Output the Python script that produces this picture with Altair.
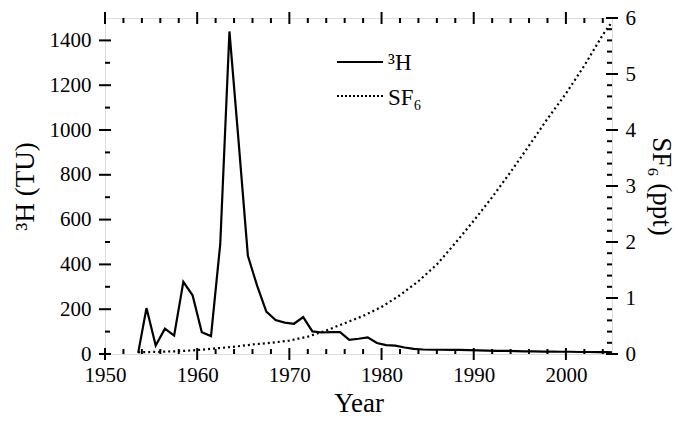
import altair as alt
import pandas as pd

# ---- data ----
H3_YEARS = [1953.6, 1954.5, 1955.5, 1956.5, 1957.5, 1958.5, 1959.5, 1960.5, 1961.5, 1962.5,
            1963.5, 1964.5, 1965.5, 1966.5, 1967.5, 1968.5, 1969.5, 1970.5, 1971.5, 1972.5,
            1973.5, 1974.5, 1975.5, 1976.5, 1977.5, 1978.5, 1979.5, 1980.5, 1981.5, 1982.5,
            1983.5, 1984.5, 1985.5, 1986.5, 1987.5, 1988.5, 1989.5, 1990.5, 1991.5, 1992.5,
            1993.5, 1994.5, 1995.5, 1996.5, 1997.5, 1998.5, 1999.5, 2000.5, 2001.5, 2002.5,
            2003.5, 2004.5, 2005.0]
H3_TU = [5, 205, 38, 113, 82, 322, 262, 97, 80, 490,
         1440, 945, 438, 305, 189, 152, 140, 135, 165, 101,
         96, 98, 98, 63, 68, 74, 49, 40, 37, 29,
         23, 20, 19, 19, 18, 18, 17, 16, 15, 14,
         14, 13, 12, 12, 11, 11, 10, 10, 9, 9,
         8, 8, 7]

SF6_YEARS = [1953.6, 1956, 1958, 1960, 1962, 1964, 1966, 1968, 1970, 1972, 1974, 1976, 1978,
             1980, 1982, 1984, 1986, 1988, 1990, 1992, 1994, 1996, 1998, 2000, 2002, 2004, 2005]
SF6_PPT = [0.03, 0.04, 0.05, 0.07, 0.10, 0.13, 0.17, 0.20, 0.24, 0.31, 0.42, 0.55, 0.68,
           0.84, 1.05, 1.30, 1.60, 1.98, 2.38, 2.80, 3.25, 3.72, 4.20, 4.65, 5.15, 5.70, 5.93]

X_MAJOR = [1950, 1960, 1970, 1980, 1990, 2000]
X_MINOR = [y for y in range(1952, 2005, 2) if y % 10 != 0]
LEFT_MAJOR = [0, 200, 400, 600, 800, 1000, 1200, 1400]
LEFT_MINOR = [100, 300, 500, 700, 900, 1100, 1300]
RIGHT_MAJOR = [0, 1, 2, 3, 4, 5, 6]
RIGHT_MINOR = [round(i * 0.2, 1) for i in range(1, 30) if i % 5 != 0]

LEGEND_LABELS = ["³H", "SF₆"]
X_TITLE = "Year"
LEFT_TITLE = "³H (TU)"
RIGHT_TITLE = "SF₆ (ppt)"

W, H = 507, 336
FONT = "Liberation Serif"

h3 = pd.DataFrame({"year": H3_YEARS, "tu": H3_TU})
sf6 = pd.DataFrame({"year": SF6_YEARS, "ppt": SF6_PPT})

xscale = alt.Scale(domain=[1950, 2005], nice=False, zero=False)
lscale = alt.Scale(domain=[0, 1500], nice=False)
rscale = alt.Scale(domain=[0, 6], nice=False)

axis_common = dict(ticks=False, domain=False, grid=False, labelFont=FONT, labelFontSize=21,
                   labelColor="black", titleFont=FONT, titleFontSize=27,
                   titleFontWeight="normal", titleColor="black", labelFlush=False)

xaxis = alt.Axis(values=X_MAJOR, format="d", title=X_TITLE, labelPadding=10,
                 titlePadding=5, **axis_common)

h3_line = alt.Chart(h3).mark_line(color="black", strokeWidth=2.2).encode(
    x=alt.X("year:Q", scale=xscale, axis=xaxis),
    y=alt.Y("tu:Q", scale=lscale,
            axis=alt.Axis(values=LEFT_MAJOR, format="d", orient="left", title=LEFT_TITLE,
                          labelPadding=14, titlePadding=10, **axis_common)),
)

sf6_line = alt.Chart(sf6).mark_line(color="black", strokeWidth=2.2, strokeDash=[2, 3]).encode(
    x=alt.X("year:Q", scale=xscale, axis=xaxis),
    y=alt.Y("ppt:Q", scale=rscale,
            axis=alt.Axis(values=RIGHT_MAJOR, format="d", orient="right", title=RIGHT_TITLE,
                          labelPadding=13, titlePadding=11, **axis_common)),
)


def xticks(vals, yval, size):
    return alt.Chart(pd.DataFrame({"year": vals})).mark_tick(
        color="black", thickness=2, size=size, opacity=1).encode(
        x=alt.X("year:Q", scale=xscale, axis=xaxis), y=alt.value(yval))


def yticks(vals, scale, xval, size):
    return alt.Chart(pd.DataFrame({"v": vals})).mark_tick(
        color="black", thickness=2, size=size, opacity=1).encode(
        y=alt.Y("v:Q", scale=scale, axis=None), x=alt.value(xval))


ticks = [
    xticks(X_MAJOR, H, 12), xticks(X_MAJOR, 0, 12),
    xticks(X_MINOR, H - 2.5, 5), xticks(X_MINOR, 2.5, 5),
    yticks(LEFT_MAJOR, lscale, 0, 12), yticks(LEFT_MINOR, lscale, 2.5, 5),
    yticks(RIGHT_MAJOR, rscale, W, 12), yticks(RIGHT_MINOR, rscale, W - 2.5, 5),
]

one = pd.DataFrame({"a": [0]})
leg_solid = alt.Chart(one).mark_rule(color="black", strokeWidth=2).encode(
    x=alt.value(232), x2=alt.value(278), y=alt.value(44))
leg_dot = alt.Chart(one).mark_rule(color="black", strokeWidth=2, strokeDash=[2, 2]).encode(
    x=alt.value(232), x2=alt.value(278), y=alt.value(78))
leg_t1 = alt.Chart(one).mark_text(font=FONT, fontSize=23, align="left", baseline="middle",
                                  color="black").encode(
    x=alt.value(283), y=alt.value(45), text=alt.value(LEGEND_LABELS[0]))
leg_t2 = alt.Chart(one).mark_text(font=FONT, fontSize=23, align="left", baseline="middle",
                                  color="black").encode(
    x=alt.value(283), y=alt.value(80), text=alt.value(LEGEND_LABELS[1]))

chart = alt.layer(h3_line, sf6_line, *ticks, leg_solid, leg_dot, leg_t1, leg_t2).resolve_scale(
    y="independent"
).properties(
    width=W, height=H,
    autosize=alt.AutoSizeParams(type="none"),
    padding={"left": 105, "top": 18, "right": 66, "bottom": 67},
).configure_view(stroke="black", strokeWidth=2).configure_axis(
    labelFont=FONT, titleFont=FONT, labelColor="black", titleColor="black"
).configure(background="white", font=FONT)

chart.save("out.html", embed_options={"renderer": "svg", "actions": False})
